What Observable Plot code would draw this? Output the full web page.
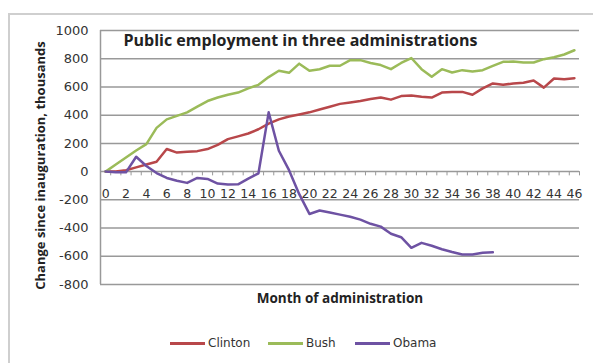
<!DOCTYPE html>
<html>
<head>
<meta charset="utf-8">
<script src="https://cdn.jsdelivr.net/npm/d3@7"></script>
<script src="https://cdn.jsdelivr.net/npm/@observablehq/plot@0.6"></script>
<style>
  html, body { margin: 0; padding: 0; background: #fff; overflow: hidden; }
  #wrap { position: relative; width: 593px; height: 363px; overflow: hidden; }
  #border { position: absolute; left: 8px; top: 13px; width: 700px; height: 500px; border: 2px solid #cfcfcf; box-sizing: border-box; }
  #chart { position: absolute; left: 0; top: 0; }
  .leg { position: absolute; top: 335px; font: 12px "DejaVu Sans", sans-serif; color: #333; display: flex; align-items: center; height: 16px; }
  .leg span.sw { display: inline-block; width: 35px; height: 3px; margin-right: 3px; }
</style>
</head>
<body>
<div id="wrap">
  <div id="border"></div>
  <div id="chart"></div>
  <div class="leg" style="left:170px"><span class="sw" style="background:#b8474a"></span>Clinton</div>
  <div class="leg" style="left:268px"><span class="sw" style="background:#9bbb59"></span>Bush</div>
  <div class="leg" style="left:355px"><span class="sw" style="background:#6e52a3"></span>Obama</div>
</div>
<script>
const clinton = [0,0,10,30,50,70,160,135,140,145,160,190,230,250,270,300,340,370,390,405,420,440,460,480,490,500,515,525,510,535,540,530,525,560,565,565,545,590,625,615,625,630,645,595,660,655,662];
const bush = [0,50,100,150,195,310,370,395,420,460,500,525,545,560,590,615,670,715,700,765,715,725,750,750,790,790,770,755,726,770,805,726,672,726,702,719,709,719,749,778,780,773,773,797,810,830,860];
const obama = [0,-5,-5,105,40,-10,-45,-65,-80,-45,-52,-85,-92,-90,-50,-12,420,148,10,-160,-300,-276,-290,-305,-320,-340,-370,-390,-440,-465,-540,-505,-525,-550,-570,-587,-587,-575,-572];
const yTicks = [-800,-600,-400,-200,0,200,400,600,800,1000];
const xLabels = d3.range(0, 47, 2);
const boundaries = d3.range(0, 47).map(d => d + 0.5);

const series = [
  {name: "Clinton", values: clinton, color: "#b8474a"},
  {name: "Bush", values: bush, color: "#9bbb59"},
  {name: "Obama", values: obama, color: "#6e52a3"}
];
const data = series.flatMap(s => s.values.map((v, i) => ({name: s.name, month: i, value: v})));

const plot = Plot.plot({
  width: 593,
  height: 320,
  marginLeft: 100,
  marginRight: 14,
  marginTop: 30,
  marginBottom: 36,
  style: {background: "transparent", fontFamily: "DejaVu Sans, sans-serif", fontSize: "12px", color: "#333"},
  x: {domain: [-0.5, 46.5], axis: null},
  y: {domain: [-800, 1000], axis: null},
  color: {domain: series.map(s => s.name), range: series.map(s => s.color)},
  marks: [
    Plot.ruleY(yTicks, {stroke: "#999", strokeWidth: 1.5}),
    Plot.ruleX([-0.5], {stroke: "#999", strokeWidth: 1.5}),
    Plot.ruleX([-0.5, ...boundaries], {x: d => d, y1: 0, y2: -30, stroke: "#999", strokeWidth: 1}),
    Plot.text(yTicks, {x: -0.5, y: d => d, text: d => String(d), textAnchor: "end", dx: -12, fill: "#333", fontSize: 13}),
    Plot.text(xLabels, {x: d => d, y: 0, text: d => String(d), dy: 22, fill: "#333", fontSize: 12.5}),
    Plot.line(data, {x: "month", y: "value", z: "name", stroke: "name", strokeWidth: 2.5}),
    Plot.text(["Public employment in three administrations"], {frameAnchor: "top-left", textAnchor: "start", lineAnchor: "middle", dx: 23, dy: 10, fontFamily: "Open Sans, sans-serif", fontWeight: "bold", fontSize: 16, fill: "#222"}),
    Plot.text(["Change since inauguration, thousands"], {frameAnchor: "left", textAnchor: "middle", lineAnchor: "middle", rotate: -90, dx: -60, dy: 8, fontFamily: "Open Sans, sans-serif", fontWeight: "bold", fontSize: 13, fill: "#222"}),
    Plot.text(["Month of administration"], {frameAnchor: "bottom", lineAnchor: "middle", dy: 14, fontFamily: "Open Sans, sans-serif", fontWeight: "bold", fontSize: 13.5, fill: "#222"})
  ]
});
document.getElementById("chart").appendChild(plot);
</script>
</body>
</html>
